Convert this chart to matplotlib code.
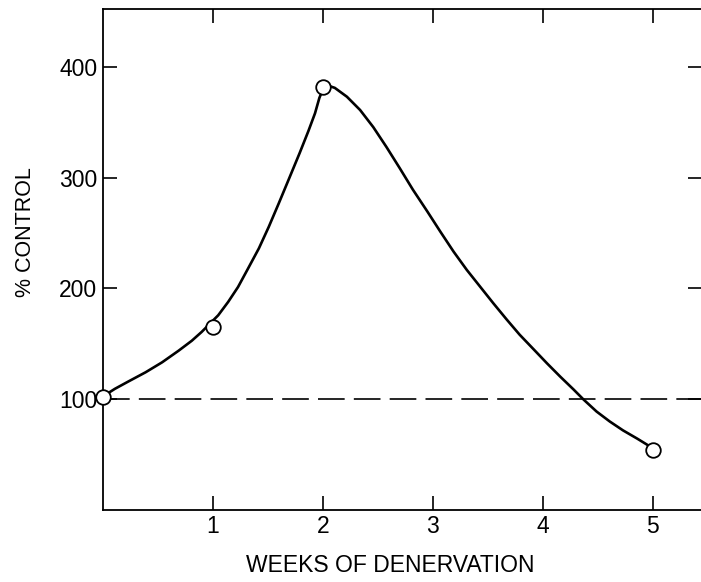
import numpy as np
import matplotlib
matplotlib.use("Agg")
import matplotlib.pyplot as plt

plt.rcParams['font.family'] = ['Liberation Sans', 'DejaVu Sans']

# measured points (open circles)
weeks = [0, 1, 2, 5]
pct_control = [102, 165, 382, 54]

# hand-drawn smooth curve
curve_weeks = [0.0, 0.11, 0.23, 0.39, 0.54, 0.69, 0.81, 0.90, 0.96, 1.01, 1.05, 1.14,
               1.23, 1.32, 1.42, 1.51, 1.60, 1.69, 1.79, 1.87, 1.93, 1.97, 2.02,
               2.11, 2.22, 2.34, 2.46, 2.58, 2.70, 2.82, 2.95, 3.07, 3.19, 3.31,
               3.43, 3.55, 3.67, 3.79, 3.92, 4.04, 4.16, 4.28, 4.37, 4.49, 4.61,
               4.73, 4.86, 4.95, 5.0]
curve_pct = [102, 109, 115.5, 124, 133, 143.5, 152.5, 160.5, 166.5, 171.5, 175.5, 187.5,
             201, 217.5, 236, 255.5, 276.5, 298, 322, 342, 358, 372, 384,
             381, 373, 361, 345.5, 327.5, 308.5, 289, 269.5, 251, 233, 216.5,
             201.5, 186.5, 172, 158, 144.5, 132, 120, 108.5, 99.5, 88.5, 79.5,
             71.5, 64, 58.5, 54]

control_level = 100

x_ticks = [1, 2, 3, 4, 5]
y_ticks = [100, 200, 300, 400]

fig = plt.figure(figsize=(7.01, 5.82), dpi=100)
ax = fig.add_axes([102.7 / 701, 72.5 / 582, 599.5 / 701, 500.2 / 582])

ax.axhline(control_level, color='black', lw=1.2, dashes=(16, 5.5))
ax.plot(curve_weeks, curve_pct, color='black', lw=1.9,
        solid_capstyle='round', solid_joinstyle='round')
ax.plot(weeks, pct_control, linestyle='none', marker='o', ms=10.5,
        mfc='white', mec='black', mew=1.3, zorder=5, clip_on=False)

ax.set_xlim(0, 5.45)
ax.set_ylim(0, 452)
ax.set_xticks(x_ticks)
ax.set_yticks(y_ticks)
ax.tick_params(direction='in', length=10, width=1.2, labelsize=16.5,
               top=True, right=True, pad=4)
for sp in ax.spines.values():
    sp.set_linewidth(1.3)

ax.set_xlabel('WEEKS OF DENERVATION', fontsize=16.5)
ax.xaxis.set_label_coords((390 - 102.7) / 599.5, -0.088)
ax.set_ylabel('% CONTROL', fontsize=15.5)
ax.yaxis.set_label_coords(-0.112, 0.555)

fig.savefig('out.png', dpi=100)
